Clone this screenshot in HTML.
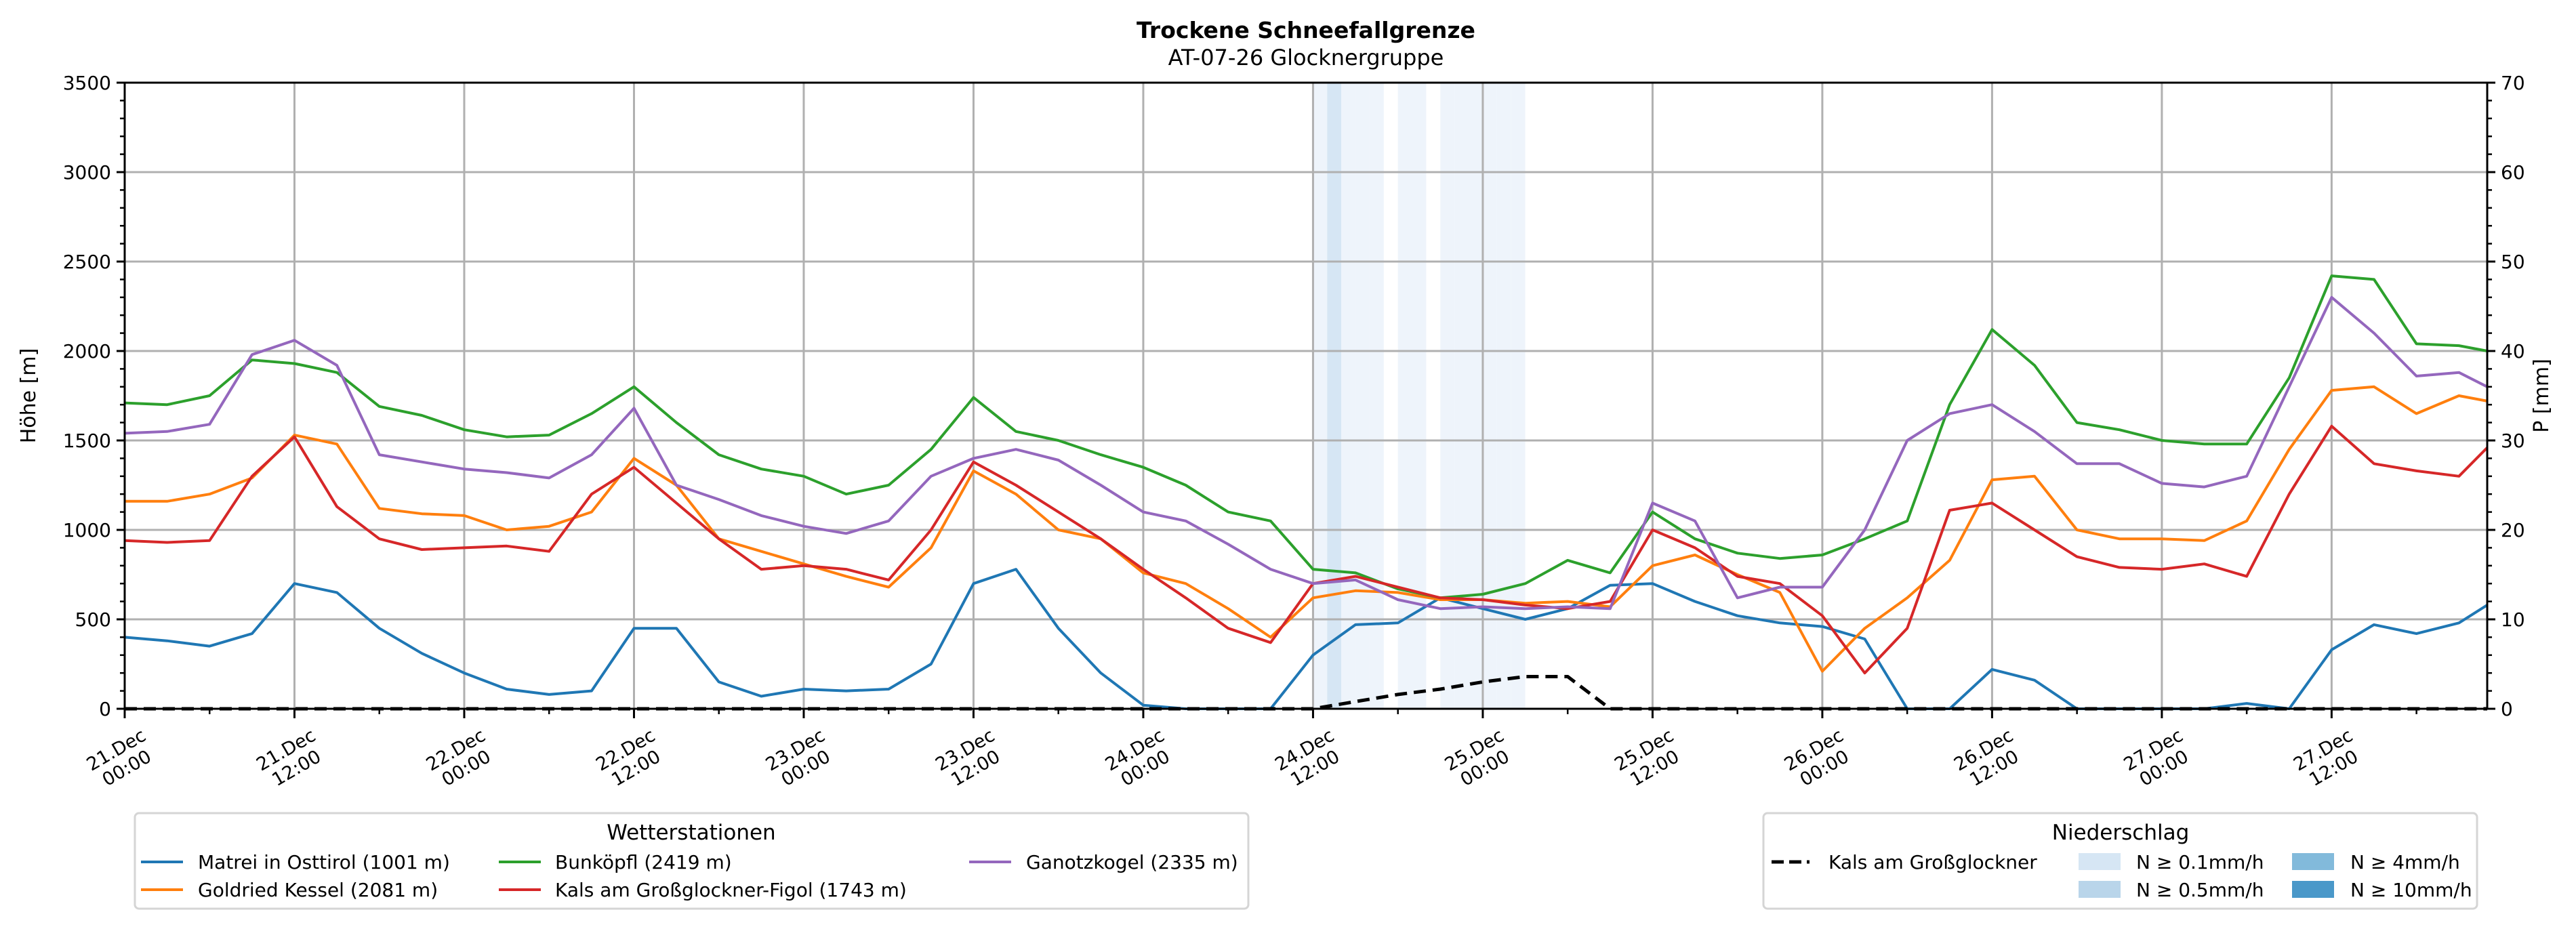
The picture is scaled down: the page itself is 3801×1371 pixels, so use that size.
<!DOCTYPE html>
<html><head><meta charset="utf-8"><style>
html,body{margin:0;padding:0;background:#fff;}
svg{display:block;font-family:"DejaVu Sans","Liberation Sans",sans-serif;}
</style></head><body>
<svg id="chart" width="3801" height="1371" viewBox="0 0 3801 1371" xmlns="http://www.w3.org/2000/svg">
<g id="bands"></g>
<g id="grid"></g>
<g id="series"></g>
<g id="axes"></g>
<text x="1927" y="56" text-anchor="middle" font-size="33" font-weight="bold">Trockene Schneefallgrenze</text>
<text x="1927" y="96" text-anchor="middle" font-size="32">AT-07-26 Glocknergruppe</text>
<text transform="translate(52,584) rotate(-90)" text-anchor="middle" font-size="30">Höhe [m]</text>
<text transform="translate(3760,584) rotate(-90)" text-anchor="middle" font-size="30">P [mm]</text>

<g>
<rect x="199" y="1200" width="1643" height="141" rx="6" fill="#fff" stroke="#d5d5d5" stroke-width="3"/>
<text x="1020" y="1239" text-anchor="middle" font-size="31">Wetterstationen</text>
<g><line x1="208" y1="1272" x2="270" y2="1272" stroke="#1f77b4" stroke-width="4"/><text x="292" y="1282" font-size="28">Matrei in Osttirol (1001 m)</text></g>
<g><line x1="208" y1="1313" x2="270" y2="1313" stroke="#ff7f0e" stroke-width="4"/><text x="292" y="1323" font-size="28">Goldried Kessel (2081 m)</text></g>
<g><line x1="736" y1="1272" x2="798" y2="1272" stroke="#2ca02c" stroke-width="4"/><text x="819" y="1282" font-size="28">Bunköpfl (2419 m)</text></g>
<g><line x1="736" y1="1313" x2="798" y2="1313" stroke="#d62728" stroke-width="4"/><text x="819" y="1323" font-size="28">Kals am Großglockner-Figol (1743 m)</text></g>
<g><line x1="1430" y1="1272" x2="1492" y2="1272" stroke="#9467bd" stroke-width="4"/><text x="1514" y="1282" font-size="28">Ganotzkogel (2335 m)</text></g>
</g>

<g>
<rect x="2602" y="1200" width="1053" height="141" rx="6" fill="#fff" stroke="#d5d5d5" stroke-width="3"/>
<text x="3129" y="1239" text-anchor="middle" font-size="31">Niederschlag</text>
<g><line x1="2614" y1="1272" x2="2670" y2="1272" stroke="#000" stroke-width="5" stroke-dasharray="18,8"/><text x="2698" y="1282" font-size="28">Kals am Großglockner</text></g>
<g><rect x="3067" y="1259" width="62" height="25" fill="#d6e6f4"/><text x="3152" y="1282" font-size="28">N ≥ 0.1mm/h</text></g>
<g><rect x="3067" y="1300" width="62" height="25" fill="#b9d5ea"/><text x="3152" y="1323" font-size="28">N ≥ 0.5mm/h</text></g>
<g><rect x="3382" y="1259" width="62" height="25" fill="#82badb"/><text x="3468" y="1282" font-size="28">N ≥ 4mm/h</text></g>
<g><rect x="3382" y="1300" width="62" height="25" fill="#4a98c9"/><text x="3468" y="1323" font-size="28">N ≥ 10mm/h</text></g>
</g>
</svg>
<script>
const hours = [0,3,6,9,12,15,18,21,24,27,30,33,36,39,42,45,48,51,54,57,60,63,66,69,72,75,78,81,84,87,90,93,96,99,102,105,108,111,114,117,120,123,126,129,132,135,138,141,144,147,150,153,156,159,162,165,167];
const matrei = [400,380,350,420,700,650,450,310,200,110,80,100,450,450,150,70,110,100,110,250,700,780,450,200,20,0,0,0,300,470,480,620,560,500,560,690,700,600,520,480,460,390,0,0,220,160,0,0,0,0,30,0,330,470,420,480,580];
const goldried = [1160,1160,1200,1290,1530,1480,1120,1090,1080,1000,1020,1100,1400,1250,950,880,810,740,680,900,1330,1200,1000,950,760,700,560,400,620,660,650,610,610,590,600,570,800,860,750,650,210,450,620,830,1280,1300,1000,950,950,940,1050,1450,1780,1800,1650,1750,1720];
const bunkoepfl = [1710,1700,1750,1950,1930,1880,1690,1640,1560,1520,1530,1650,1800,1600,1420,1340,1300,1200,1250,1450,1740,1550,1500,1420,1350,1250,1100,1050,780,760,670,620,640,700,830,760,1100,950,870,840,860,950,1050,1700,2120,1920,1600,1560,1500,1480,1480,1850,2420,2400,2040,2030,2000];
const kalsFigol = [940,930,940,1300,1520,1130,950,890,900,910,880,1200,1350,1150,950,780,800,780,720,1000,1380,1250,1100,950,780,620,450,370,700,740,680,620,610,580,560,600,1000,900,740,700,520,200,450,1110,1150,1000,850,790,780,810,740,1200,1580,1370,1330,1300,1460];
const ganotz = [1540,1550,1590,1980,2060,1920,1420,1380,1340,1320,1290,1420,1680,1250,1170,1080,1020,980,1050,1300,1400,1450,1390,1250,1100,1050,920,780,700,720,610,560,570,560,570,560,1150,1050,620,680,680,1000,1500,1650,1700,1550,1370,1370,1260,1240,1300,1800,2300,2100,1860,1880,1800];
const kalsDashed = [0,0,0,0,0,0,0,0,0,0,0,0,0,0,0,0,0,0,0,0,0,0,0,0,0,0,0,0,0,40,80,110,150,180,180,0,0,0,0,0,0,0,0,0,0,0,0,0,0,0,0,0,0,0,0,0,0];
const precipHours = [84,85,86,87,88,90,91,93,94,95,96,97,98];
const precipLevels = [1,2,1,1,1,1,1,1,1,1,1,1,1];
const yTicks = [0,500,1000,1500,2000,2500,3000,3500];
const y2Ticks = [0,10,20,30,40,50,60,70];
const xTickHours = [0,12,24,36,48,60,72,84,96,108,120,132,144,156];
const xTickLabels = [["21.Dec","00:00"],["21.Dec","12:00"],["22.Dec","00:00"],["22.Dec","12:00"],["23.Dec","00:00"],["23.Dec","12:00"],["24.Dec","00:00"],["24.Dec","12:00"],["25.Dec","00:00"],["25.Dec","12:00"],["26.Dec","00:00"],["26.Dec","12:00"],["27.Dec","00:00"],["27.Dec","12:00"]];

const L=184,R=3670,T=122,B=1046,HMAX=167,YMAX=3500,PMAX=70;
const NS="http://www.w3.org/2000/svg";
const xS=h=>L+(R-L)*h/HMAX;
const yS=v=>B-(B-T)*v/YMAX;
const y2S=v=>B-(B-T)*v/PMAX;
function mk(tag,attrs,parent){const e=document.createElementNS(NS,tag);for(const k in attrs)e.setAttribute(k,attrs[k]);parent.appendChild(e);return e;}
const gB=document.getElementById('bands'),gG=document.getElementById('grid'),gS=document.getElementById('series'),gA=document.getElementById('axes');
const bandColors={1:"#eef4fb",2:"#d6e6f4",3:"#82badb",4:"#4a98c9"};
precipHours.forEach((h,i)=>{
  const r=mk('rect',{x:xS(h),y:T,width:xS(h+1)-xS(h),height:B-T,fill:bandColors[precipLevels[i]]},gB);
  
  
});
yTicks.forEach(v=>{
  const l=mk('line',{x1:L,x2:R,y1:yS(v),y2:yS(v),stroke:"#b0b0b0","stroke-width":3},gG);
  
  
});
xTickHours.forEach(h=>{
  const l=mk('line',{x1:xS(h),x2:xS(h),y1:T,y2:B,stroke:"#b0b0b0","stroke-width":3},gG);
  
  
});
function series(vals,color,name,dash){
  const d=vals.map((v,i)=>(i?'L':'M')+xS(hours[i]).toFixed(1)+','+yS(v).toFixed(1)).join('');
  const p=mk('path',{d:d,fill:'none',stroke:color,'stroke-width':dash?5:4,'stroke-linejoin':'round'},gS);
  if(dash)p.setAttribute('stroke-dasharray','18,10');
  
  
}
series(matrei,'#1f77b4','line-matrei');
series(goldried,'#ff7f0e','line-goldried');
series(bunkoepfl,'#2ca02c','line-bunkoepfl');
series(kalsFigol,'#d62728','line-kals-figol');
series(ganotz,'#9467bd','line-ganotzkogel');
series(kalsDashed,'#000','line-kals-dashed',true);
const fr=mk('rect',{x:L,y:T,width:R-L,height:B-T,fill:'none',stroke:'#000','stroke-width':3},gA);


yTicks.forEach(v=>{
  mk('line',{x1:L-12,x2:L,y1:yS(v),y2:yS(v),stroke:'#000','stroke-width':3},gA);
  const t=mk('text',{x:L-20,y:yS(v)+10,'text-anchor':'end','font-size':28},gA);
  t.textContent=v;
  
  
});
for(let v=0;v<=YMAX;v+=100){if(v%500)mk('line',{x1:L-7,x2:L,y1:yS(v),y2:yS(v),stroke:'#000','stroke-width':2.5},gA);}
y2Ticks.forEach(v=>{
  mk('line',{x1:R,x2:R+12,y1:y2S(v),y2:y2S(v),stroke:'#000','stroke-width':3},gA);
  const t=mk('text',{x:R+20,y:y2S(v)+10,'text-anchor':'start','font-size':28},gA);
  t.textContent=v;
  
  
});
for(let v=0;v<=PMAX;v+=2){if(v%10)mk('line',{x1:R,x2:R+7,y1:y2S(v),y2:y2S(v),stroke:'#000','stroke-width':2.5},gA);}
xTickHours.forEach((h,i)=>{
  const x=xS(h);
  mk('line',{x1:x,x2:x,y1:B,y2:B+14,stroke:'#000','stroke-width':3},gA);
  const g=mk('g',{transform:`translate(${x-6},1118) rotate(-30)`},gA);
  
  
  const t1=mk('text',{x:0,y:-4,'text-anchor':'middle','font-size':27},g);t1.textContent=xTickLabels[i][0];
  const t2=mk('text',{x:0,y:27,'text-anchor':'middle','font-size':27},g);t2.textContent=xTickLabels[i][1];
});
for(let h=6;h<HMAX;h+=12){mk('line',{x1:xS(h),x2:xS(h),y1:B,y2:B+8,stroke:'#000','stroke-width':2.5},gA);}
</script>
</body></html>
